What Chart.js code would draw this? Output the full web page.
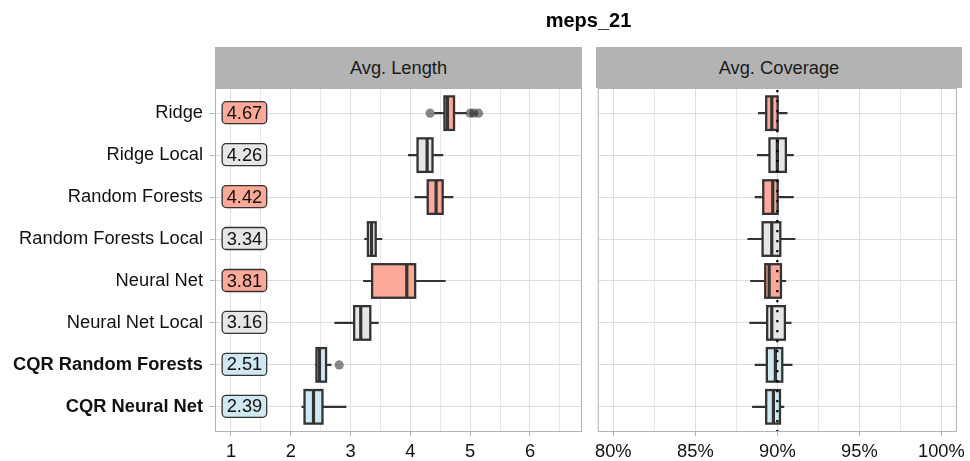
<!DOCTYPE html>
<html><head><meta charset="utf-8">
<script src="https://cdn.jsdelivr.net/npm/chart.js@4.4.1/dist/chart.umd.min.js"></script>
<style>
html,body{margin:0;padding:0;background:#fff;}
#wrap{position:relative;width:970px;height:461px;overflow:hidden;font-family:"Liberation Sans",Arial,sans-serif;}
canvas{position:absolute;top:0;}
#c1{left:0;} #c2{left:590px;}
.strip{position:absolute;top:47px;height:41px;background:#b3b3b3;color:#1a1a1a;font-size:18.3px;display:flex;align-items:center;justify-content:center;}
#title{position:absolute;left:215px;width:747px;top:10px;line-height:20px;text-align:center;font-weight:bold;font-size:20px;color:#000;}
</style></head><body>
<div id="wrap">
<canvas id="c1" width="590" height="461"></canvas>
<canvas id="c2" width="380" height="461"></canvas>
<div id="title">meps_21</div>
<div class="strip" style="left:215px;width:367px">Avg. Length</div>
<div class="strip" style="left:596px;width:366px">Avg. Coverage</div>
</div>
<script>
// ---------- data ----------
const categories = ['Ridge','Ridge Local','Random Forests','Random Forests Local','Neural Net','Neural Net Local','CQR Random Forests','CQR Neural Net'];
const boldRows = [false,false,false,false,false,false,true,true];
const groups = ['base','local','base','local','base','local','cqr','cqr'];
const meanLength = [4.67,4.26,4.42,3.34,3.81,3.16,2.51,2.39];

const lenLow  = [4.40,3.96,4.07,3.23,3.21,2.73,2.41,2.18];
const lenQ1   = [4.57,4.12,4.29,3.29,3.36,3.06,2.43,2.23];
const lenMed  = [4.62,4.28,4.43,3.35,3.94,3.17,2.48,2.38];
const lenQ3   = [4.73,4.37,4.54,3.42,4.08,3.33,2.59,2.53];
const lenHigh = [4.94,4.55,4.72,3.53,4.59,3.47,2.68,2.93];
const lenOutlierValues = [4.33,5.00,5.06,5.14,2.81];
const lenOutlierRows   = [0,0,0,0,6];

const covLow  = [88.82,88.76,88.62,88.18,88.34,88.30,88.62,88.46];
const covQ1   = [89.32,89.52,89.14,89.10,89.26,89.38,89.36,89.32];
const covMed  = [89.66,90.00,89.72,89.66,89.50,89.66,89.88,89.76];
const covQ3   = [90.02,90.52,90.02,90.18,90.22,90.46,90.30,90.16];
const covHigh = [90.62,91.00,91.00,91.10,90.54,90.86,90.92,90.42];
const coverageTarget = 90;

const lengthMajorTicks = [1,2,3,4,5,6];
const lengthMinorTicks = [1.5,2.5,3.5,4.5,5.5,6.5];
const coverageMajorTicks = [80,85,90,95,100];
const coverageMinorTicks = [82.5,87.5,92.5,97.5];

// ---------- styles ----------
const FONT = '"Liberation Sans", Arial, sans-serif';
const FS = 18.3;
Chart.defaults.font.family = FONT;
Chart.defaults.font.size = FS;
Chart.defaults.color = '#111111';
const fills = {base:'#fca99a', local:'#e6e6e6', cqr:'#cfe8f2'};
const DARK = '#333333';
const GRID_MAJOR = '#dedede', GRID_MINOR = '#e8e8e8';

function boxPlugin(cfg){
  return {
    id:'boxparts',
    beforeDatasetsDraw(chart){
      const {ctx, scales:{x,y}} = chart;
      ctx.save(); ctx.strokeStyle = DARK; ctx.lineWidth = 2.2;
      cfg.low.forEach((lo,i)=>{
        const py = y.getPixelForValue(i);
        ctx.beginPath();
        ctx.moveTo(x.getPixelForValue(lo),py); ctx.lineTo(x.getPixelForValue(cfg.q1[i]),py);
        ctx.moveTo(x.getPixelForValue(cfg.q3[i]),py); ctx.lineTo(x.getPixelForValue(cfg.high[i]),py);
        ctx.stroke();
      });
      ctx.restore();
    },
    afterDatasetsDraw(chart){
      const {ctx, chartArea, scales:{x,y}} = chart;
      const meta = chart.getDatasetMeta(0);
      ctx.save();
      ctx.strokeStyle = DARK;
      meta.data.forEach((el,i)=>{
        const h = el.height;
        const l = Math.min(el.x, el.base), r = Math.max(el.x, el.base);
        ctx.lineWidth = 2.3;
        ctx.strokeRect(l, el.y - h/2, r - l, h);
        const px = x.getPixelForValue(cfg.med[i]);
        ctx.lineWidth = 3.2;
        ctx.beginPath(); ctx.moveTo(px, el.y - h/2); ctx.lineTo(px, el.y + h/2); ctx.stroke();
      });
      if (cfg.target != null){
        const px = x.getPixelForValue(cfg.target);
        ctx.strokeStyle = '#000'; ctx.lineWidth = 2.2; ctx.setLineDash([2.2,7.8]);
        ctx.beginPath(); ctx.moveTo(px, chartArea.top + 2); ctx.lineTo(px, chartArea.bottom); ctx.stroke();
        ctx.setLineDash([]);
      }
      if (cfg.means){
        ctx.font = FS + 'px ' + FONT;
        cfg.means.forEach((v,i)=>{
          const txt = v.toFixed(2);
          const tw = ctx.measureText(txt).width;
          const w = tw + 9, h = 22, r = 4;
          const cx = x.getPixelForValue(cfg.labelAt), cy = y.getPixelForValue(i) - 0.5;
          const lx = cx - w/2, ty = cy - h/2;
          ctx.beginPath();
          ctx.moveTo(lx + r, ty); ctx.lineTo(lx + w - r, ty); ctx.arcTo(lx + w, ty, lx + w, ty + r, r);
          ctx.lineTo(lx + w, ty + h - r); ctx.arcTo(lx + w, ty + h, lx + w - r, ty + h, r);
          ctx.lineTo(lx + r, ty + h); ctx.arcTo(lx, ty + h, lx, ty + h - r, r);
          ctx.lineTo(lx, ty + r); ctx.arcTo(lx, ty, lx + r, ty, r); ctx.closePath();
          ctx.fillStyle = fills[groups[i]]; ctx.fill();
          ctx.strokeStyle = DARK; ctx.lineWidth = 1.3; ctx.stroke();
          ctx.fillStyle = '#111111'; ctx.textAlign = 'center'; ctx.textBaseline = 'middle';
          ctx.fillText(txt, cx, cy + 1);
        });
      }
      ctx.restore();
    },
    afterDraw(chart){
      const {ctx, chartArea:a} = chart;
      ctx.save(); ctx.strokeStyle = '#b3b3b3'; ctx.lineWidth = 1;
      ctx.strokeRect(a.left + 0.5, a.top + 0.5, a.right - a.left - 1, a.bottom - a.top - 1);
      ctx.restore();
    }
  };
}

function yAxis(showLabels){
  return {
    type:'linear', reverse:true, min:-0.6, max:7.6, offset:false,
    afterBuildTicks(s){ s.ticks = categories.map((c,i)=>({value:i})); },
    afterFit(s){ s.width = showLabels ? 215 : 6; },
    border:{display:false},
    grid:{offset:false, color:GRID_MAJOR, lineWidth:1, drawTicks:showLabels, tickLength:5, tickColor:'#b3b3b3'},
    ticks:{
      display:showLabels, autoSkip:false, padding:7, color:'#111111',
      callback:(v)=>categories[v],
      font:(ctx)=>({family:FONT, size:FS, weight: (ctx.tick && boldRows[ctx.tick.value]) ? 'bold' : 'normal'})
    }
  };
}

function xAxis(min, max, major, minor, fmt){
  const all = major.concat(minor).sort((a,b)=>a-b);
  const isMajor = (v)=>major.includes(v);
  return {
    type:'linear', min, max, offset:false,
    afterBuildTicks(s){ s.ticks = all.map(v=>({value:v})); },
    afterFit(s){ s.height = 29; },
    border:{display:false},
    grid:{
      offset:false,
      color:(c)=> (c.tick && isMajor(c.tick.value)) ? GRID_MAJOR : GRID_MINOR,
      lineWidth:1, drawTicks:true, tickLength:4,
      tickColor:(c)=> (c.tick && isMajor(c.tick.value)) ? '#b3b3b3' : 'rgba(0,0,0,0)'
    },
    ticks:{autoSkip:false, maxRotation:0, padding:5, color:'#111111',
      callback:(v)=> isMajor(v) ? fmt(v) : ''}
  };
}

const boxDataset = (q1,q3)=>({
  type:'bar',
  data: categories.map((c,i)=>({y:i, x:[q1[i], q3[i]]})),
  backgroundColor: groups.map(g=>fills[g]),
  borderWidth: 0,
  barPercentage:0.8, categoryPercentage:1
});

const common = {
  responsive:false, animation:false, indexAxis:'y',
  plugins:{legend:{display:false}, tooltip:{enabled:false}, title:{display:false}}
};

new Chart(document.getElementById('c1'), {
  type:'bar',
  data:{datasets:[
    boxDataset(lenQ1, lenQ3),
    {type:'scatter', data: lenOutlierValues.map((v,k)=>({x:v, y:lenOutlierRows[k]})),
     pointRadius:4.6, pointBackgroundColor:'rgba(20,20,20,0.5)', pointBorderWidth:0}
  ]},
  options:Object.assign({}, common, {
    layout:{padding:{top:88, right:8, left:0, bottom:0}},
    scales:{
      x:xAxis(0.733, 6.87, lengthMajorTicks, lengthMinorTicks, v=>String(v)),
      y:yAxis(true)
    }
  }),
  plugins:[boxPlugin({low:lenLow, q1:lenQ1, med:lenMed, q3:lenQ3, high:lenHigh, means:meanLength, labelAt:1.225})]
});

new Chart(document.getElementById('c2'), {
  type:'bar',
  data:{datasets:[ boxDataset(covQ1, covQ3) ]},
  options:Object.assign({}, common, {
    layout:{padding:{top:88, right:8, left:0, bottom:0}},
    scales:{
      x:xAxis(79.05, 100.95, coverageMajorTicks, coverageMinorTicks, v=>v+'%'),
      y:yAxis(false)
    }
  }),
  plugins:[boxPlugin({low:covLow, q1:covQ1, med:covMed, q3:covQ3, high:covHigh, target:coverageTarget})]
});
</script>
</body></html>
